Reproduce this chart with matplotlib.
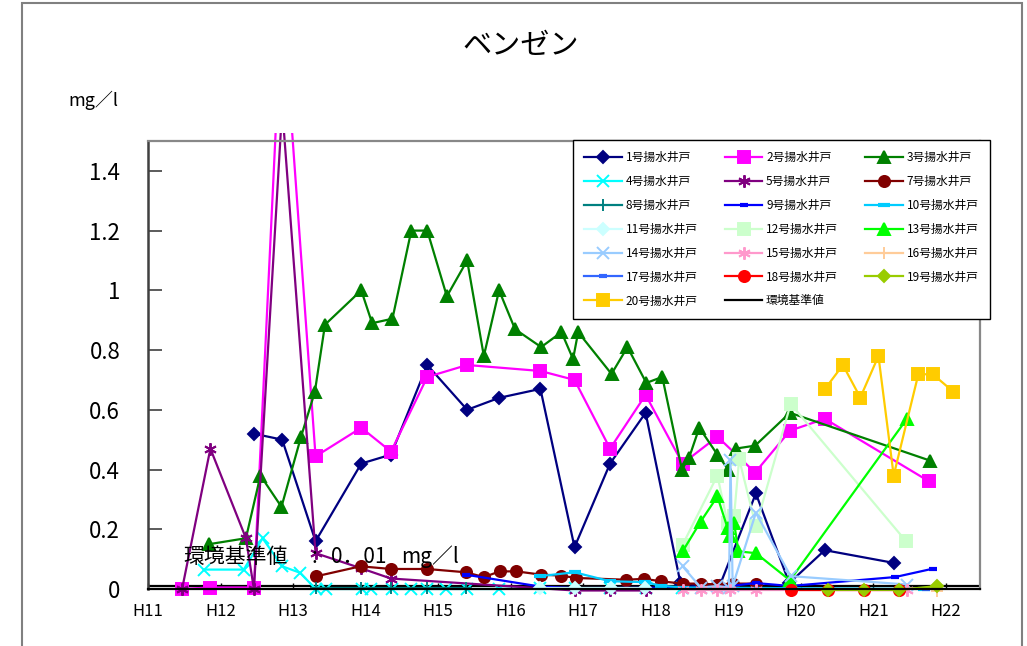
import matplotlib

matplotlib.use("Agg")
import matplotlib.pyplot as plt
from matplotlib.lines import Line2D
from matplotlib.patches import Rectangle

plt.rcParams["font.family"] = ["Noto Sans CJK JP", "DejaVu Sans"]

# years are Heisei-era fractional years, values in mg/l
w1_x = [12.46, 12.85, 13.31, 13.94, 14.35, 14.85, 15.40, 15.84, 16.41, 16.88, 17.37, 17.86, 18.34, 18.62, 18.88, 19.38, 19.84, 20.33, 21.29]
w1_y = [0.52, 0.50, 0.16, 0.42, 0.45, 0.75, 0.60, 0.64, 0.67, 0.14, 0.42, 0.59, 0.02, 0.01, 0.01, 0.32, 0.02, 0.13, 0.087]
w2_x = [11.47, 11.86, 12.46, 12.85, 13.31, 13.94, 14.35, 14.85, 15.40, 16.41, 16.88, 17.37, 17.86, 18.37, 18.85, 19.37, 19.85, 20.33, 21.77]
w2_y = [0.0, 0.005, 0.005, 1.99, 0.444, 0.54, 0.46, 0.71, 0.75, 0.73, 0.70, 0.47, 0.65, 0.42, 0.51, 0.39, 0.53, 0.57, 0.36]
w3_x = [11.84, 12.35, 12.55, 12.84, 13.11, 13.30, 13.44, 13.94, 14.09, 14.37, 14.63, 14.85, 15.12, 15.40, 15.63, 15.84, 16.06,
        16.42, 16.70, 16.86, 16.93, 17.39, 17.61, 17.87, 18.09, 18.36, 18.46, 18.60, 18.85, 19.00, 19.10, 19.37, 19.85, 21.78]
w3_y = [0.15, 0.17, 0.38, 0.275, 0.51, 0.66, 0.885, 1.0, 0.89, 0.905, 1.2, 1.2, 0.98, 1.1, 0.78, 1.0, 0.87,
        0.81, 0.86, 0.77, 0.86, 0.72, 0.81, 0.69, 0.71, 0.40, 0.44, 0.54, 0.45, 0.40, 0.47, 0.48, 0.59, 0.43]
w4_x = [11.77, 12.32, 12.58, 12.85, 13.10, 13.31, 13.45, 13.95, 14.08, 14.36, 14.63, 14.85, 15.11, 15.40, 15.84, 16.41, 16.88, 17.37, 17.86, 18.36]
w4_y = [0.065, 0.065, 0.17, 0.076, 0.054, 0.0, 0.0, 0.0, 0.0, 0.0, 0.0, 0.0, 0.0, 0.0, 0.0, 0.003, 0.003, 0.003, 0.003, 0.003]
w5_x = [11.47, 11.86, 12.35, 12.46, 12.85, 13.31, 13.93, 14.35, 16.88, 17.37, 17.86]
w5_y = [0.0, 0.47, 0.17, 0.0, 1.61, 0.12, 0.07, 0.035, -0.005, -0.005, -0.005]
w7_x = [13.31, 13.93, 14.35, 14.85, 15.38, 15.63, 15.85, 16.08, 16.42, 16.69, 16.90, 17.59, 17.84, 18.07, 18.37, 18.62, 18.85, 19.06, 19.38]
w7_y = [0.042, 0.076, 0.067, 0.067, 0.056, 0.04, 0.059, 0.059, 0.048, 0.045, 0.037, 0.031, 0.034, 0.026, 0.018, 0.018, 0.015, 0.018, 0.018]
w8_x = [13.31, 13.94, 14.35, 14.85, 15.38]
w8_y = [0.002, 0.002, 0.002, 0.002, 0.002]
w9_x = [15.38, 16.41, 16.88, 18.85, 19.38, 19.85, 21.30, 21.82]
w9_y = [0.048, 0.008, 0.003, 0.005, 0.02, 0.01, 0.04, 0.068]
w10_x = [16.40, 16.88, 17.37, 17.85, 18.07, 18.37, 21.70]
w10_y = [0.043, 0.056, 0.026, 0.023, 0.011, 0.005, 0.0]
w11_x = [16.41, 16.88, 17.38, 17.85]
w11_y = [0.005, 0.005, 0.005, 0.005]
w12_x = [18.37, 18.85, 18.99, 19.08, 19.15, 19.38, 19.86, 21.45]
w12_y = [0.148, 0.38, 0.22, 0.245, 0.435, 0.21, 0.62, 0.16]
w13_x = [18.37, 18.62, 18.85, 18.99, 19.03, 19.08, 19.14, 19.38, 19.85, 21.46]
w13_y = [0.126, 0.226, 0.31, 0.204, 0.176, 0.221, 0.126, 0.12, 0.029, 0.569]
w14_x = [18.37, 18.62, 18.85, 19.01, 19.03, 19.06, 19.38, 19.86, 21.47]
w14_y = [0.076, 0.005, 0.01, 0.005, 0.433, 0.01, 0.255, 0.043, 0.015]
w15_x = [18.37, 18.62, 18.85, 19.03, 19.38, 19.86, 21.47]
w15_y = [-0.003, -0.003, -0.003, -0.003, -0.003, -0.003, -0.003]
w16_x = [21.88]
w16_y = [-0.006]
w17_x = [21.72]
w17_y = [0.0]
w18_x = [19.86, 20.37, 20.87, 21.36]
w18_y = [-0.003, -0.003, -0.003, -0.003]
w19_x = [20.37, 20.87, 21.36, 21.88]
w19_y = [-0.003, -0.003, -0.003, 0.01]
w20_x = [20.33, 20.58, 20.82, 21.07, 21.28, 21.62, 21.82, 22.10]
w20_y = [0.669, 0.75, 0.641, 0.78, 0.38, 0.719, 0.719, 0.661]

well_numbers = [1, 2, 3, 4, 5, 7, 8, 9, 10, 11, 12, 13, 14, 15, 16, 17, 18, 19, 20]
standard_value = 0.01
year_ticks = list(range(11, 23))
year_labels = [f"H{y}" for y in year_ticks]
value_ticks = [0, 0.2, 0.4, 0.6, 0.8, 1, 1.2, 1.4]
value_labels = ["0", "0.2", "0.4", "0.6", "0.8", "1", "1.2", "1.4"]

xs = [w1_x, w2_x, w3_x, w4_x, w5_x, w7_x, w8_x, w9_x, w10_x, w11_x, w12_x, w13_x, w14_x, w15_x, w16_x, w17_x, w18_x, w19_x, w20_x]
ys = [w1_y, w2_y, w3_y, w4_y, w5_y, w7_y, w8_y, w9_y, w10_y, w11_y, w12_y, w13_y, w14_y, w15_y, w16_y, w17_y, w18_y, w19_y, w20_y]

ASTER = (6, 2, 0)
styles = [
    ("#000080", "D", 6), ("#FF00FF", "s", 8), ("#008000", "^", 8), ("#00FFFF", "x", 8),
    ("#800080", ASTER, 9), ("#800000", "o", 8), ("#008080", "+", 9), ("#0000FF", "_", 6),
    ("#00CCFF", "_", 8), ("#CCFFFF", "D", 6), ("#CCFFCC", "s", 8), ("#00FF00", "^", 8),
    ("#99CCFF", "x", 8), ("#FF99CC", ASTER, 9), ("#FFCC99", "+", 9), ("#3366FF", "_", 6),
    ("#FF0000", "o", 8), ("#99CC00", "D", 6), ("#FFCC00", "s", 8),
]

W, H = 1027, 646
fig = plt.figure(figsize=(W / 100, H / 100), dpi=100)
ax = fig.add_axes([148 / W, 1 - 589 / H, (980 - 148) / W, (589 - 141) / H])

clip = Rectangle((0, -0.06), 1, 1.078, transform=ax.transAxes)

ax.axhline(standard_value, color="black", lw=1.6, zorder=1.5)

handles = []
for num, x, y, (col, mk, ms) in zip(well_numbers, xs, ys, styles):
    mew = 3 if mk == "_" else 1.4
    (ln,) = ax.plot(x, y, color=col, lw=1.6, marker=mk, ms=ms, mfc=col, mec=col, mew=mew,
                    label=f"{num}号揚水井戸", zorder=2)
    ln.set_clip_path(clip)
    handles.append(ln)

std_handle = Line2D([], [], color="black", lw=1.6, label="環境基準値")
handles.append(std_handle)

ax.set_xlim(11, 22.47)
ax.set_ylim(0, 1.5)
ax.set_xticks(year_ticks, year_labels, fontsize=12)
ax.set_yticks(value_ticks, value_labels, fontsize=16)
ax.tick_params(axis="y", direction="in", length=10, width=1.2, color="#404040", pad=20)
ax.tick_params(axis="x", direction="in", length=4, width=1, color="black", pad=10)

ax.spines["left"].set_color("#404040")
ax.spines["left"].set_linewidth(1.8)
ax.spines["bottom"].set_color("black")
ax.spines["bottom"].set_linewidth(1.6)
for side in ("top", "right"):
    ax.spines[side].set_color("#888888")
    ax.spines[side].set_linewidth(1.6)

# standard-value note, laid out piece by piece like the original
note_y = 1 - 557 / H
fig.text(183 / W, note_y, "環境基準値", fontsize=15, ha="left", va="center", zorder=5)
fig.text(314 / W, note_y, ":", fontsize=15, ha="center", va="center", zorder=5)
fig.text(331 / W, note_y, "0．01", fontsize=15, ha="left", va="center", zorder=5)
fig.text(401 / W, note_y, "mg／l", fontsize=15, ha="left", va="center", zorder=5)

fig.text(521 / W, 1 - 46 / H, "ベンゼン", fontsize=21, ha="center", va="center")
fig.text(68 / W, 1 - 100 / H, "mg／l", fontsize=13, ha="left", va="center")

# legend fills column by column, reference reads row by row
n_rows = 7
order = []
for c in range(3):
    for r in range(n_rows):
        i = r * 3 + c
        if i < len(handles):
            order.append(i)
fig.legend([handles[i] for i in order], [handles[i].get_label() for i in order],
           loc="upper left", bbox_to_anchor=(573 / W, 1 - 140 / H), ncol=3, fontsize=8.5,
           frameon=True, fancybox=False, edgecolor="black", framealpha=1, borderaxespad=0,
           handlelength=3.2, handletextpad=0.3, columnspacing=2.3, labelspacing=0.92, borderpad=0.95)

frame = Rectangle((22 / W, -0.02), 1000 / W, 1.02 - 3 / H, transform=fig.transFigure,
                  fill=False, edgecolor="#808080", lw=1.5)
fig.patches.append(frame)

fig.savefig("out.png", dpi=100)
